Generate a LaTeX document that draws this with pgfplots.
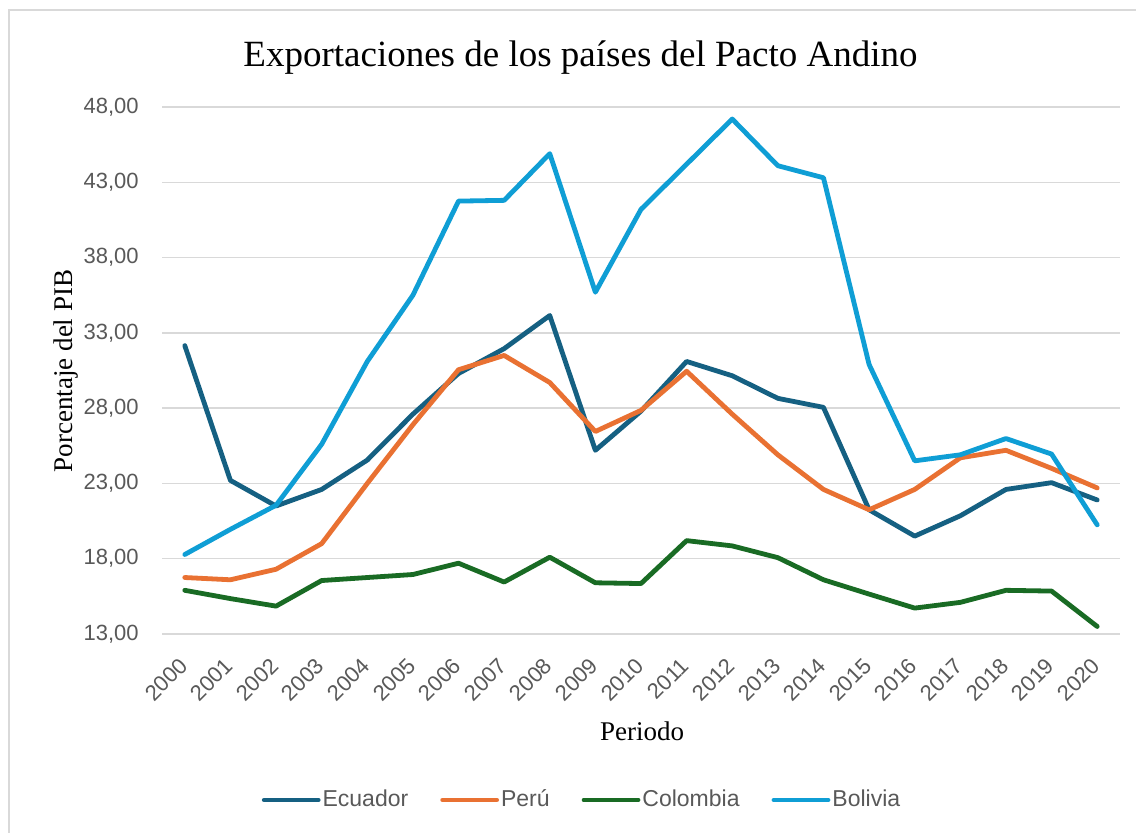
\documentclass[border=0pt]{standalone}
\usepackage{fontspec}
\setmainfont{Liberation Serif}
\setsansfont{Liberation Sans}
\usepackage{pgfplots}
\pgfplotsset{compat=1.18}
\definecolor{ecu}{HTML}{156082}
\definecolor{per}{HTML}{E97132}
\definecolor{col}{HTML}{196B24}
\definecolor{bol}{HTML}{0F9ED5}
\definecolor{gridc}{HTML}{D9D9D9}
\definecolor{txt}{HTML}{595959}
\begin{document}
\begin{tikzpicture}
\useasboundingbox (0,0) rectangle (568pt,416.5pt);
\fill[white] (0,0) rectangle (568pt,416.5pt);
\draw[gridc, line width=1pt] (4.25pt,0) -- (4.25pt,411.25pt) -- (568pt,411.25pt);
\begin{axis}[
 at={(81pt,99.5pt)}, anchor=south west,
 scale only axis, width=479pt, height=263.5pt,
 xmin=1999.5, xmax=2020.5, ymin=13, ymax=48,
 xtick={2000,...,2020}, ytick={13,18,...,48},
 ymajorgrids, major grid style={gridc, line width=0.75pt},
 axis line style={draw=none}, major tick length=0pt,
 /pgf/number format/assume math mode=true,
 tick label style={font=\sffamily\fontsize{11}{13}\selectfont, text=txt},
 yticklabel style={anchor=east, inner sep=0pt, xshift=-11.5pt, /pgf/number format/.cd, fixed, fixed zerofill, precision=2, use comma},
 xticklabel style={yshift=-11pt, xshift=-3.5pt, rotate=45, anchor=north east, inner sep=0pt, /pgf/number format/.cd, 1000 sep={}},
 legend columns=4,
 legend style={draw=none, fill=none, at={(0.4384,-0.315)}, anchor=center,
   font=\sffamily\fontsize{11.5}{13}\selectfont, text=txt,
   /tikz/every even column/.append style={column sep=15pt},
   nodes={inner sep=1pt}},
 legend image code/.code={\draw[#1, line cap=round] (0pt,0pt) -- (27pt,0pt);},
 every axis plot/.append style={line width=2.4pt, line join=round, line cap=round, no markers},
]
\addplot[ecu] coordinates {(2000,32.15)(2001,23.2)(2002,21.5)(2003,22.6)(2004,24.55)(2005,27.6)(2006,30.3)(2007,31.95)(2008,34.15)(2009,25.2)(2010,27.8)(2011,31.1)(2012,30.15)(2013,28.65)(2014,28.05)(2015,21.25)(2016,19.5)(2017,20.85)(2018,22.6)(2019,23.05)(2020,21.9)};
\addlegendentry{Ecuador}
\addplot[per] coordinates {(2000,16.75)(2001,16.6)(2002,17.3)(2003,19.0)(2004,23.0)(2005,26.9)(2006,30.55)(2007,31.5)(2008,29.7)(2009,26.45)(2010,27.85)(2011,30.45)(2012,27.6)(2013,24.9)(2014,22.6)(2015,21.25)(2016,22.6)(2017,24.7)(2018,25.2)(2019,24.0)(2020,22.7)};
\addlegendentry{Perú}
\addplot[col] coordinates {(2000,15.9)(2001,15.35)(2002,14.85)(2003,16.55)(2004,16.75)(2005,16.95)(2006,17.7)(2007,16.45)(2008,18.1)(2009,16.4)(2010,16.35)(2011,19.2)(2012,18.85)(2013,18.07)(2014,16.6)(2015,15.65)(2016,14.72)(2017,15.1)(2018,15.9)(2019,15.85)(2020,13.5)};
\addlegendentry{Colombia}
\addplot[bol] coordinates {(2000,18.28)(2001,19.95)(2002,21.55)(2003,25.6)(2004,31.1)(2005,35.5)(2006,41.75)(2007,41.8)(2008,44.9)(2009,35.7)(2010,41.2)(2011,44.2)(2012,47.2)(2013,44.1)(2014,43.3)(2015,30.9)(2016,24.5)(2017,24.9)(2018,25.98)(2019,24.95)(2020,20.25)};
\addlegendentry{Bolivia}
\end{axis}
\node[font=\fontsize{18.5}{22}\selectfont, anchor=base] at (290.25pt,383.2pt) {Exportaciones de los países del Pacto Andino};
\node[rotate=90, font=\fontsize{13.5}{16}\selectfont] at (33pt,231pt) {Porcentaje del PIB};
\node[anchor=base, font=\fontsize{13.5}{16}\selectfont] at (321pt,46pt) {Periodo};
\end{tikzpicture}
\end{document}
